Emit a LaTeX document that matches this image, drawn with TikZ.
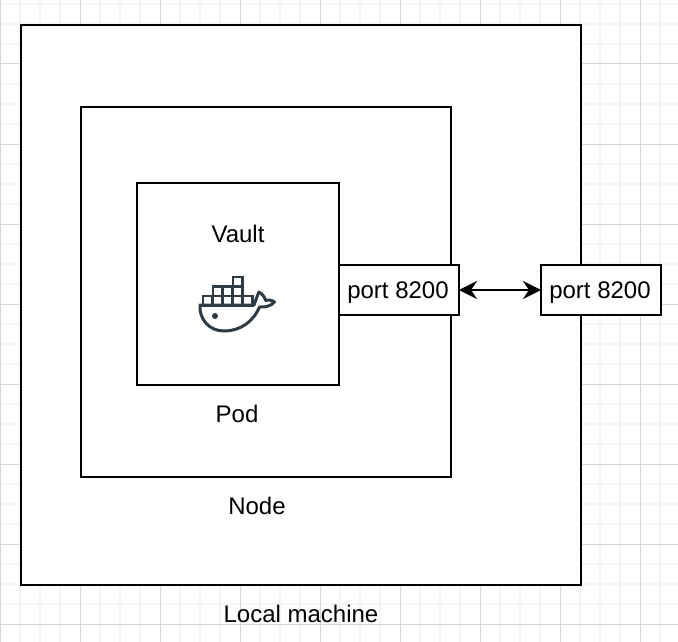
\documentclass[tikz,border=0pt]{standalone}
\usepackage{fontspec}
\setmainfont{Liberation Sans}
\usetikzlibrary{arrows.meta}
\definecolor{gridlight}{HTML}{F5F5F5}
\definecolor{griddark}{HTML}{D6D6D6}
\definecolor{whaleink}{HTML}{2E3B44}
\tikzset{
  framebox/.style={draw=black,fill=white,line width=2pt,minimum width=#1,inner sep=0pt,outer sep=0pt},
  portbox/.style={draw=black,fill=white,line width=2pt,minimum width=120pt,minimum height=50pt,inner sep=0pt,outer sep=0pt,font=\fontsize{24}{28}\selectfont},
  caption/.style={font=\fontsize{24}{28}\selectfont,inner sep=0pt,anchor=base},
  whale/.style={draw=whaleink,line width=3pt,line join=round,line cap=round},
  crate/.style={draw=whaleink,line width=2.5pt,line join=miter},
  linkarrow/.style={line width=2pt,{Stealth[length=18pt,width=18pt,inset=6pt]}-{Stealth[length=18pt,width=18pt,inset=6pt]}}
}
\begin{document}
\begin{tikzpicture}[x=1pt,y=-1pt]
\useasboundingbox (0,0) rectangle (678,642);
\fill[white] (0,0) rectangle (678,642);
% page grid
\foreach \gx in {20,40,60,100,120,140,180,200,220,260,280,300,340,360,380,420,440,460,500,520,540,580,600,620,660}
  \draw[gridlight,line width=1.5pt] (\gx,0) -- (\gx,642);
\foreach \gy in {4,24,44,84,104,124,164,184,204,244,264,284,324,344,364,404,424,444,484,504,524,564,584,604}
  \draw[gridlight,line width=1.5pt] (0,\gy) -- (678,\gy);
\foreach \gx in {0.5,80,160,240,320,400,480,560,640}
  \draw[griddark,line width=1pt] (\gx,0) -- (\gx,642);
\foreach \gy in {64,144,224,304,384,464,544,624}
  \draw[griddark,line width=1pt] (0,\gy) -- (678,\gy);
% frames
\node[framebox=560pt,minimum height=560pt] (local) at (301,305) {};
\node[framebox=370pt,minimum height=370pt] (nodebox) at (266,292) {};
\node[framebox=202pt,minimum height=202pt] (pod) at (238,284) {};
\node[portbox] (portin) at (399,290) {\raisebox{-8pt}[0pt][0pt]{port 8200}\kern2pt};
\node[portbox] (portout) at (601,290) {\raisebox{-8pt}[0pt][0pt]{port 8200}\kern2pt};
\draw[linkarrow] (portin) -- (portout);
% captions
\node[caption] (vaultlabel) at (238,242.5) {Vault};
\node[caption] (podlabel) at (237,422.5) {Pod};
\node[caption] (nodelabel) at (257,514.5) {Node};
\node[caption] (locallabel) at (301,622.5) {Local machine};
% docker whale
\foreach \cx/\cy in {203/296,213/296,223/296,233/296,243/296,213/286.5,223/286.5,233/286.5,233/277}
  \draw[crate] (\cx,\cy) rectangle ++(9.6,9.4);
\draw[whale] (200,305) -- (254,305) .. controls (256,300) and (257,296) .. (259,292)
  .. controls (262,294) and (265,297) .. (265.5,300.5)
  .. controls (268,299.5) and (272,300) .. (274.5,302)
  .. controls (271,306) and (265,307.5) .. (259.5,307)
  .. controls (253,322) and (240,331) .. (224,331)
  .. controls (209,331) and (199,319) .. (200,305) -- cycle;
\fill[whaleink] (215,316) circle (3pt);
\end{tikzpicture}
\end{document}
